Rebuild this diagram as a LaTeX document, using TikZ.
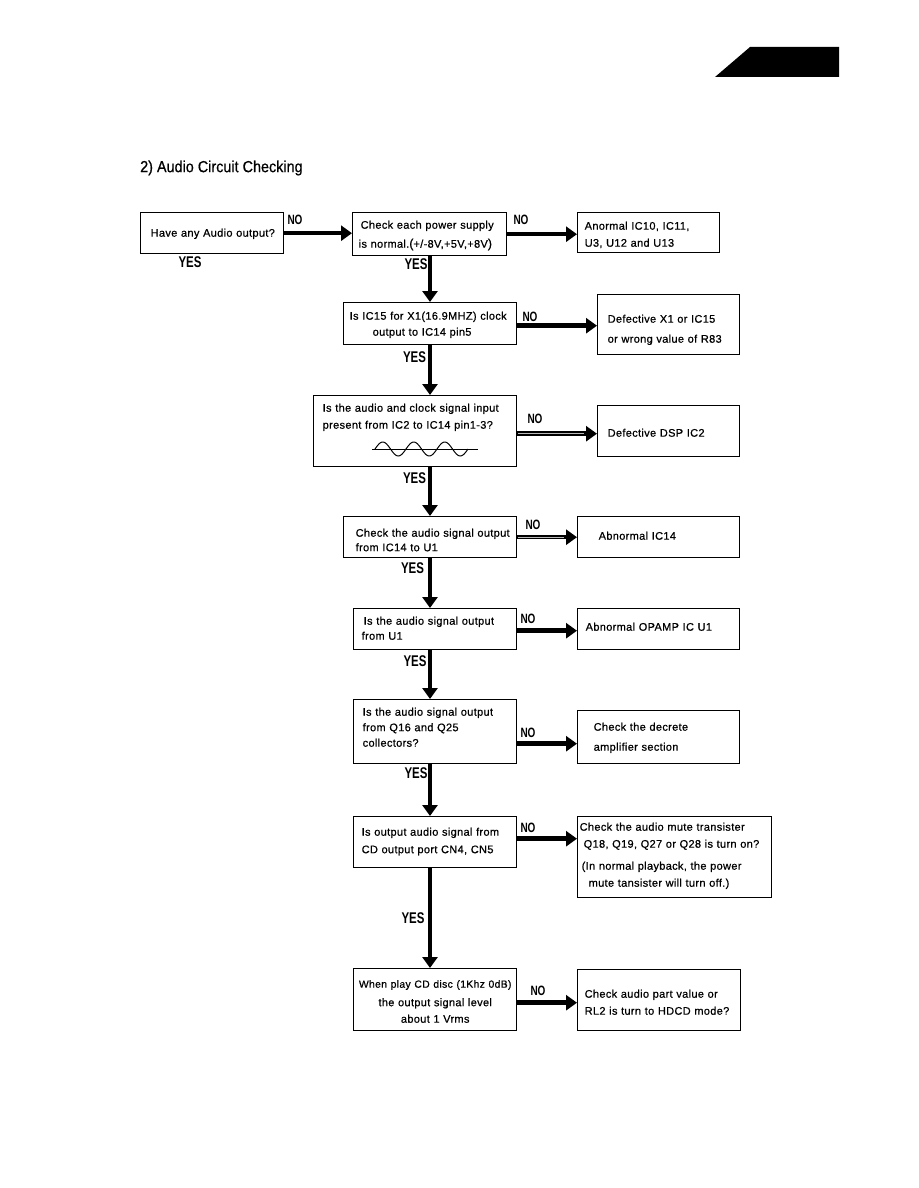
\documentclass[tikz,border=0pt]{standalone}
\usepackage{fontspec}
\setmainfont[LetterSpace=3,FakeBold=0.6]{Liberation Sans}
\newfontfamily\labfont[FakeStretch=0.74]{Liberation Sans}
\newfontfamily\titlefont[FakeStretch=0.9,FakeBold=0.6]{Liberation Sans}
\usetikzlibrary{arrows.meta}
\newcommand\Lline[1]{\mbox{#1}}
\begin{document}
\begin{tikzpicture}[x=1pt,y=-1pt,
 box/.style={draw,line width=1.4pt,rectangle,inner ysep=0pt,anchor=north west,align=left},
 ls/.style={font=\fontsize{11}{#1}\selectfont},
 yeslab/.style={font=\labfont\bfseries\fontsize{15.5}{16}\selectfont,inner sep=0pt},
 nolab/.style={font=\labfont\bfseries\fontsize{13.5}{14}\selectfont,inner sep=0pt},
 arr/.style={line width=4.5pt,-{Triangle[width=15pt,length=11pt]}},
 dbl/.style={line width=1.2pt,draw=gray!55,shorten >=13pt,shorten <=1pt},
]
\fill[white] (0,0) rectangle (918,1188);
\useasboundingbox (0,0) rectangle (918,1188);

% tab
\fill (715,77) -- (750,47) -- (839,47) -- (839,77) -- cycle;

% title
\node[font=\titlefont\fontsize{16}{16}\selectfont,anchor=west,inner sep=0pt] (title) at (140,168) {2) Audio Circuit Checking};

% boxes
\node[box,ls=17,minimum width=143pt,minimum height=41pt,text width=123pt,inner xsep=10pt,text height=7pt,text depth=0pt] (b1) at (140,212)
 {\Lline{Have any Audio output?}};
\node[box,ls=19,minimum width=154pt,minimum height=43pt,text width=142pt,inner xsep=6pt,text height=0pt,text depth=11pt] (b2) at (352,212)
 {\Lline{\hspace*{2pt}Check each power supply}\\\Lline{is normal.{\fontsize{12.5}{12}\selectfont(}+/-8V,+5V,+8V{\fontsize{12.5}{12}\selectfont)}}};
\node[box,ls=17,minimum width=142pt,minimum height=40pt,text width=128pt,inner xsep=7pt,text height=0pt,text depth=6pt] (b3) at (577,212)
 {\Lline{Anormal IC10, IC11,}\\\Lline{U3, U12 and U13}};
\node[box,ls=16,minimum width=173pt,minimum height=42pt,text width=165pt,inner xsep=4pt,text height=0pt,text depth=8pt] (b4) at (343,302)
 {\Lline{\hspace*{2pt}Is IC15 for X1(16.9MHZ) clock}\\\Lline{\hspace*{25pt}output to IC14 pin5}};
\node[box,ls=20,minimum width=142pt,minimum height=60pt,text width=122pt,inner xsep=10pt,text height=0pt,text depth=4pt] (b5) at (597,294)
 {\Lline{Defective X1 or IC15}\\\Lline{or wrong value of R83}};
\node[box,ls=17,minimum width=203pt,minimum height=71pt,text width=185pt,inner xsep=9pt,text height=0pt,text depth=39pt] (b6) at (313,395)
 {\Lline{Is the audio and clock signal input}\\\Lline{present from IC2 to IC14 pin1-3?}};
\node[box,ls=17,minimum width=142pt,minimum height=51pt,text width=122pt,inner xsep=10pt,text height=11pt,text depth=0pt] (b7) at (597,405)
 {\Lline{Defective DSP IC2}};
\node[box,ls=14.5,minimum width=173pt,minimum height=41pt,text width=149pt,inner xsep=12pt,text height=0pt,text depth=1pt] (b8) at (343,516)
 {\Lline{Check the audio signal output}\\\Lline{from IC14 to U1}};
\node[box,ls=17,minimum width=162pt,minimum height=41pt,text width=120pt,inner xsep=21pt,text height=5pt,text depth=0pt] (b9) at (577,516)
 {\Lline{Abnormal IC14}};
\node[box,ls=15,minimum width=163pt,minimum height=41pt,text width=147pt,inner xsep=8pt,text height=0pt,text depth=9pt] (b10) at (353,608)
 {\Lline{\hspace*{2pt}Is the audio signal output}\\\Lline{from U1}};
\node[box,ls=17,minimum width=162pt,minimum height=41pt,text width=146pt,inner xsep=8pt,text height=3pt,text depth=0pt] (b11) at (577,608)
 {\Lline{Abnormal OPAMP IC U1}};
\node[box,ls=15.5,minimum width=163pt,minimum height=64pt,text width=145pt,inner xsep=9pt,text height=0pt,text depth=32pt] (b12) at (353,699)
 {\Lline{Is the audio signal output}\\\Lline{from Q16 and Q25}\\\Lline{collectors?}};
\node[box,ls=20,minimum width=162pt,minimum height=53pt,text width=130pt,inner xsep=16pt,text height=0pt,text depth=13pt] (b13) at (577,710)
 {\Lline{Check the decrete}\\\Lline{amplifier section}};
\node[box,ls=17.5,minimum width=163pt,minimum height=51pt,text width=147pt,inner xsep=8pt,text height=0pt,text depth=13pt] (b14) at (353,816)
 {\Lline{Is output audio signal from}\\\Lline{CD output port CN4, CN5}};
\node[box,ls=17,minimum width=194pt,minimum height=81pt,text width=190pt,inner xsep=2pt,text height=0pt,text depth=53pt] (b15) at (577,816)
 {\Lline{Check the audio mute transister}\\\Lline{\hspace*{4pt}Q18, Q19, Q27 or Q28 is turn on?}\\[5pt]\Lline{\hspace*{2pt}(In normal playback, the power}\\\Lline{\hspace*{9pt}mute tansister will turn off.)}};
\node[box,ls=16.5,align=center,minimum width=163pt,minimum height=62pt,text width=155pt,inner xsep=4pt,text height=0pt,text depth=24pt] (b16) at (353,968)
 {\Lline{\fontsize{10.4}{16}\selectfont When play CD disc (1Khz 0dB)}\\[2pt]\Lline{the output signal level}\\\Lline{about 1 Vrms}};
\node[box,ls=17,minimum width=163pt,minimum height=61pt,text width=149pt,inner xsep=7pt,text height=0pt,text depth=5pt] (b17) at (577,969)
 {\Lline{Check audio part value or}\\\Lline{RL2 is turn to HDCD mode?}};

% wave in b6
\draw[line width=0.8pt] (372,449) -- (478,449);
\draw[line width=1pt] plot[domain=0:3,samples=120,smooth] ({375+\x*31},{449-7*sin(360*\x)});

% vertical spine
\coordinate (sp) at (430,0);
\draw[arr] (b2.south -| sp) -- (b4.north -| sp);
\draw[arr] (b4.south -| sp) -- (b6.north -| sp);
\draw[arr] (b6.south -| sp) -- (b8.north -| sp);
\draw[arr] (b8.south -| sp) -- (b10.north -| sp);
\draw[arr] (b10.south -| sp) -- (b12.north -| sp);
\draw[arr] (b12.south -| sp) -- (b14.north -| sp);
\draw[arr] (b14.south -| sp) -- (b16.north -| sp);

% horizontal NO arrows
\draw[arr] (b1.east) -- (b1.east -| b2.west);
\draw[arr] (b2.east) -- (b2.east -| b3.west);
\draw[arr] ([yshift=-2pt]b4.east) -- ([yshift=-2pt]b4.east -| b5.west);
\draw[arr] ([yshift=-2.5pt]b6.east) -- ([yshift=-2.5pt]b6.east -| b7.west);
\draw[dbl] ([yshift=-2.5pt]b6.east) -- ([yshift=-2.5pt]b6.east -| b7.west);
\draw[arr] (b8.east) -- (b8.east -| b9.west);
\draw[dbl] (b8.east) -- (b8.east -| b9.west);
\draw[arr] ([yshift=-1.5pt]b10.east) -- ([yshift=-1.5pt]b10.east -| b11.west);
\draw[arr] ([yshift=-12pt]b12.east) -- ([yshift=-12pt]b12.east -| b13.west);
\draw[arr] ([yshift=3.5pt]b14.east) -- ([yshift=3.5pt]b14.east -| b15.west);
\draw[arr] ([yshift=-3pt]b16.east) -- ([yshift=-3pt]b16.east -| b17.west);

% labels
\node[nolab] (n1) at (295,219.5) {NO};
\node[nolab] (n2) at (521,219.5) {NO};
\node[nolab] (n4) at (530,317) {NO};
\node[nolab] (n6) at (535,419) {NO};
\node[nolab] (n8) at (533,525) {NO};
\node[nolab] (n10) at (528,618.5) {NO};
\node[nolab] (n12) at (528,733) {NO};
\node[nolab] (n14) at (528,828) {NO};
\node[nolab] (n16) at (538,991) {NO};

\node[yeslab] (y1) at (190,262.5) {YES};
\node[yeslab] (y2) at (416,264.5) {YES};
\node[yeslab] (y4) at (414.5,357.5) {YES};
\node[yeslab] (y6) at (414.5,478) {YES};
\node[yeslab] (y8) at (412.5,568.5) {YES};
\node[yeslab] (y10) at (415,661) {YES};
\node[yeslab] (y12) at (416,773.5) {YES};
\node[yeslab] (y14) at (413,918) {YES};
\end{tikzpicture}
\end{document}
